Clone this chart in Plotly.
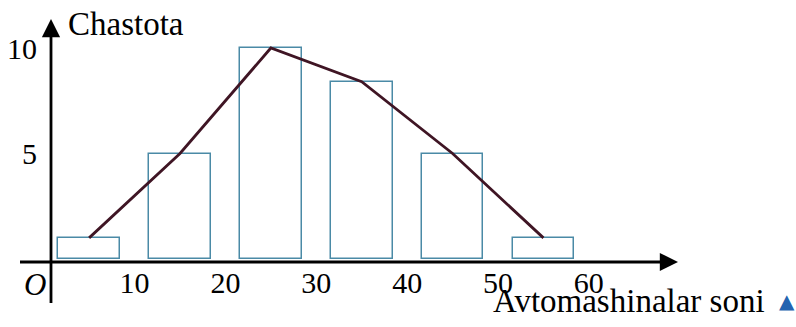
import plotly.graph_objects as go

# ---- data ----
class_centers = [5, 15, 25, 35, 45, 55]
frequencies = [1, 5, 10, 8.4, 5, 1]
bar_width = 6.8
x_tick_vals = [10, 20, 30, 40, 50, 60]
x_tick_text = ["10", "20", "30", "40", "50", "60"]
y_tick_vals = [5, 10]
y_tick_text = ["5", "10"]
y_title = "Chastota"
x_title = "Avtomashinalar soni"

W, H = 796, 327
ML, MR, MT, MB = 50, 116, 10, 65
SERIF = "Liberation Serif, Times New Roman, serif"

fig = go.Figure()
fig.add_trace(go.Bar(
    x=class_centers, y=frequencies, width=bar_width,
    marker=dict(color="rgba(0,0,0,0)", line=dict(color="#4a8aa6", width=1.5)),
    showlegend=False, hoverinfo="skip",
))
fig.add_trace(go.Scatter(
    x=class_centers, y=frequencies, mode="lines",
    line=dict(color="#3f1524", width=2.8),
    showlegend=False, hoverinfo="skip",
))

pw = W - ML - MR
ph = H - MT - MB


def px2paper_x(px):
    return (px - ML) / pw


def py2paper_y(py):
    return (H - MB - py) / ph


shapes = [
    dict(type="line", xref="paper", yref="paper",
         x0=px2paper_x(20), x1=px2paper_x(668), y0=py2paper_y(262), y1=py2paper_y(262),
         line=dict(color="black", width=2.8)),
    dict(type="line", xref="paper", yref="paper",
         x0=px2paper_x(51), x1=px2paper_x(51), y0=py2paper_y(303), y1=py2paper_y(30),
         line=dict(color="black", width=2.8)),
]

annotations = [
    dict(xref="paper", yref="paper", x=px2paper_x(678), y=py2paper_y(262),
         ax=-14, ay=0, showarrow=True, arrowhead=2, arrowsize=1.4, arrowwidth=2.6,
         arrowcolor="black", text=""),
    dict(xref="paper", yref="paper", x=px2paper_x(51), y=py2paper_y(19),
         ax=0, ay=14, showarrow=True, arrowhead=2, arrowsize=1.4, arrowwidth=2.6,
         arrowcolor="black", text=""),
    dict(xref="paper", yref="paper", x=px2paper_x(66), y=py2paper_y(24),
         xanchor="left", yanchor="middle", showarrow=False, text=y_title,
         font=dict(family=SERIF, size=33, color="black")),
    dict(xref="paper", yref="paper", x=px2paper_x(767), y=py2paper_y(301),
         xanchor="right", yanchor="middle", showarrow=False, text=x_title,
         font=dict(family=SERIF, size=33, color="black")),
    dict(xref="paper", yref="paper", x=px2paper_x(787), y=py2paper_y(301),
         xanchor="center", yanchor="middle", showarrow=False, text="▲",
         font=dict(family="DejaVu Sans", size=20, color="#2563b0")),
    dict(xref="paper", yref="paper", x=px2paper_x(35), y=py2paper_y(284),
         xanchor="center", yanchor="middle", showarrow=False, text="<i>O</i>",
         font=dict(family=SERIF, size=31, color="black")),
]

fig.update_layout(
    width=W, height=H,
    margin=dict(l=ML, r=MR, t=MT, b=MB, pad=0),
    paper_bgcolor="white", plot_bgcolor="white",
    shapes=shapes, annotations=annotations,
    bargap=0,
    xaxis=dict(range=[(ML - 43.7) / 9.086, (W - MR - 43.7) / 9.086],
               tickvals=x_tick_vals, ticktext=x_tick_text,
               ticks="", ticklen=0, automargin=False,
               showgrid=False, zeroline=False, showline=False,
               tickfont=dict(family=SERIF, size=30, color="black")),
    yaxis=dict(range=[(259 - (H - MB)) / 21.1, (259 - MT) / 21.1],
               tickvals=y_tick_vals, ticktext=y_tick_text,
               ticks="outside", ticklen=6, tickcolor="rgba(0,0,0,0)", automargin=False,
               showgrid=False, zeroline=False, showline=False,
               tickfont=dict(family=SERIF, size=30, color="black")),
)

fig.write_html("out.html", config={"displayModeBar": False},
               post_script="document.body.style.margin='0px';document.body.style.overflow='hidden';")
